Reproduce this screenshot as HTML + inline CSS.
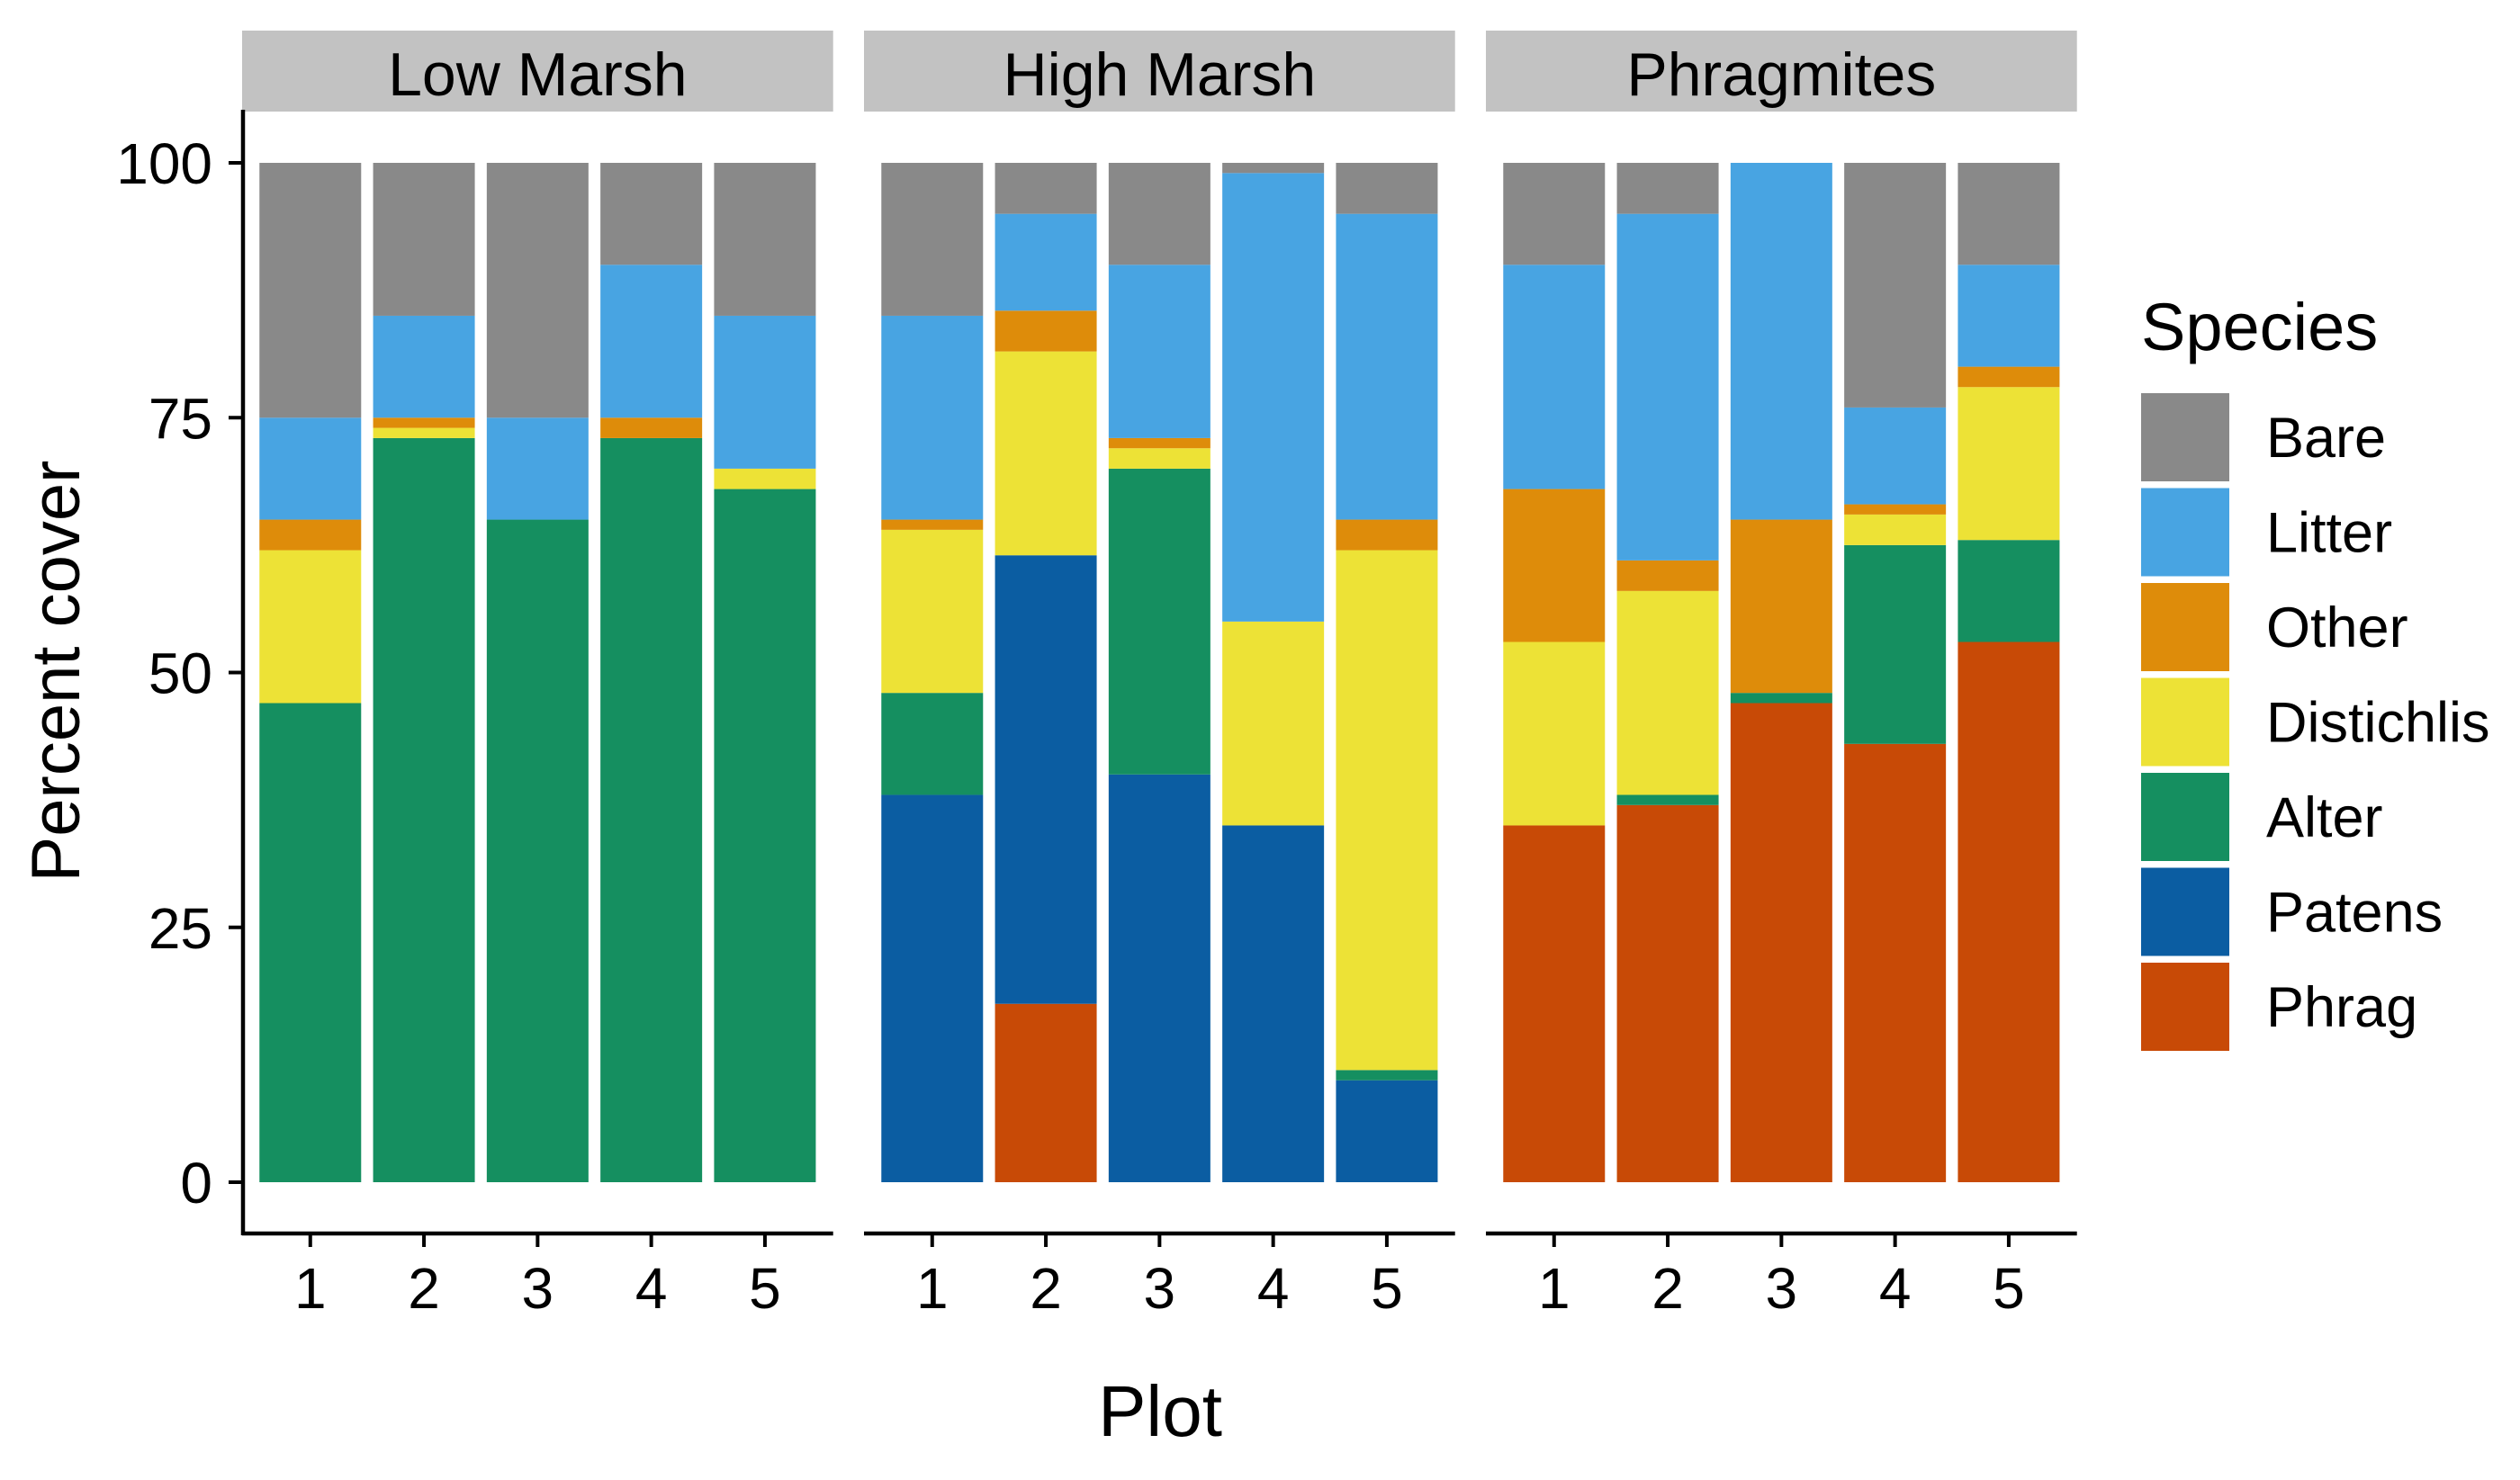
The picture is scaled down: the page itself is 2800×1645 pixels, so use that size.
<!DOCTYPE html>
<html><head><meta charset="utf-8"><style>
html,body{margin:0;padding:0;background:#fff;}
svg{display:block;font-family:"Liberation Sans",Arial,sans-serif;}
</style></head><body>
<svg id="chart" width="2800" height="1645" viewBox="0 0 2800 1645" xmlns="http://www.w3.org/2000/svg">
<rect width="2800" height="1645" fill="#fff"/>
<g id="panels"></g>
<g id="yaxis"></g>
<text x="1289" y="1596" font-size="80" text-anchor="middle">Plot</text>
<text transform="translate(88,746) rotate(-90)" font-size="76" text-anchor="middle">Percent cover</text>
<g id="legend"></g>
</svg>
<script>
const facets = ["Low Marsh", "High Marsh", "Phragmites"];
const plots = ["1", "2", "3", "4", "5"];
const species = ["Phrag", "Patens", "Alter", "Distichlis", "Other", "Litter", "Bare"];
const legendOrder = ["Bare", "Litter", "Other", "Distichlis", "Alter", "Patens", "Phrag"];
const colors = {Bare:"#898989", Litter:"#48A4E2", Other:"#DE8C0A", Distichlis:"#EDE236", Alter:"#158F60", Patens:"#0B5DA2", Phrag:"#C84A06"};
const yTicks = [0, 25, 50, 75, 100];
// values per facet, per plot: [Phrag, Patens, Alter, Distichlis, Other, Litter, Bare]
const lowMarsh = [
  [0, 0, 47, 15, 3, 10, 25],
  [0, 0, 73, 1, 1, 10, 15],
  [0, 0, 65, 0, 0, 10, 25],
  [0, 0, 73, 0, 2, 15, 10],
  [0, 0, 68, 2, 0, 15, 15]
];
const highMarsh = [
  [0, 38, 10, 16, 1, 20, 15],
  [17.5, 44, 0, 20, 4, 9.5, 5],
  [0, 40, 30, 2, 1, 17, 10],
  [0, 35, 0, 20, 0, 44, 1],
  [0, 10, 1, 51, 3, 30, 5]
];
const phragmites = [
  [35, 0, 0, 18, 15, 22, 10],
  [37, 0, 1, 20, 3, 34, 5],
  [47, 0, 1, 0, 17, 35, 0],
  [43, 0, 19.5, 3, 1, 9.5, 24],
  [53, 0, 10, 15, 2, 10, 10]
];
const facetData = [lowMarsh, highMarsh, phragmites];

const NS = "http://www.w3.org/2000/svg";
function mk(tag, attrs, parent){const e=document.createElementNS(NS,tag);for(const k in attrs)e.setAttribute(k,attrs[k]);parent.appendChild(e);return e;}
const Y0 = 1314, Y100 = 181;
function yScale(v){return Y0 - (Y0 - Y100) * v / 100;}
const panelW = 656.7, panelGap = 34.3, panelX0 = 269;
const step = panelW / 5.2, barW = 113;
function panelLeft(i){return panelX0 + i * (panelW + panelGap);}
function xCenter(i, j){return panelLeft(i) + (0.6 + j) * step;}

const panels = document.getElementById("panels");
facets.forEach((f, i) => {
  const g = mk("g", {}, panels);
  
  
  const px = panelLeft(i);
  const strip = mk("rect", {x:px, y:34, width:panelW, height:90, fill:"#C2C2C2"}, g);
  
  
  const st = mk("text", {x:px + panelW/2, y:106, "font-size":68, "text-anchor":"middle", fill:"#000"}, g);
  st.textContent = f;
  
  
  facetData[i].forEach((vals, j) => {
    let cum = 0;
    const cx = xCenter(i, j);
    vals.forEach((v, k) => {
      if (v <= 0) { return; }
      const r = mk("rect", {x:cx - barW/2, y:yScale(cum + v), width:barW, height:yScale(cum) - yScale(cum + v), fill:colors[species[k]]}, g);
      
      
      cum += v;
    });
    const tk = mk("line", {x1:cx, x2:cx, y1:1371, y2:1386, stroke:"#000", "stroke-width":4}, g);
    
    
    const tl = mk("text", {x:cx, y:1454, "font-size":64, "text-anchor":"middle", fill:"#000"}, g);
    tl.textContent = plots[j];
    
    
  });
  const ax = mk("line", {x1:px, x2:px + panelW, y1:1371, y2:1371, stroke:"#000", "stroke-width":4.5}, g);
  
  
});

const ya = document.getElementById("yaxis");
const yl = mk("line", {x1:270, x2:270, y1:122, y2:1373, stroke:"#000", "stroke-width":4.5}, ya);


yTicks.forEach(t => {
  const y = yScale(t);
  const l = mk("line", {x1:254, x2:270, y1:y, y2:y, stroke:"#000", "stroke-width":4}, ya);
  
  
  const tx = mk("text", {x:236, y:y + 23, "font-size":64, "text-anchor":"end", fill:"#000"}, ya);
  tx.textContent = t;
  
  
});

const lg = document.getElementById("legend");
const lt = mk("text", {x:2379, y:389, "font-size":74, fill:"#000"}, lg);
lt.textContent = "Species";


legendOrder.forEach((s, i) => {
  const top = 437 + i * 105.5;
  const r = mk("rect", {x:2379, y:top, width:98, height:98, fill:colors[s]}, lg);
  
  
  const t = mk("text", {x:2518, y:top + 71, "font-size":63, fill:"#000"}, lg);
  t.textContent = s;
  
  
});
</script>
</body></html>
